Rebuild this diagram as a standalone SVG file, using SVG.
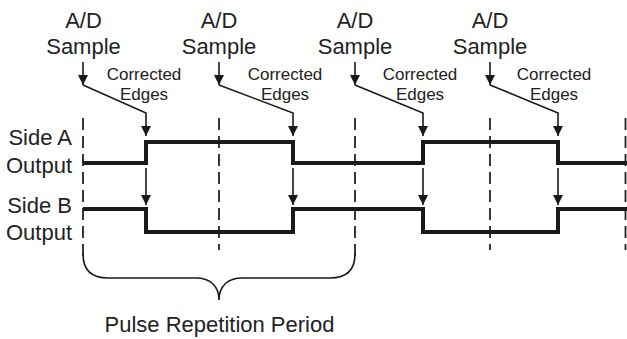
<svg xmlns="http://www.w3.org/2000/svg" width="627" height="339" viewBox="0 0 627 339">
<style>
.big{font-family:"Liberation Sans",Arial,sans-serif;font-size:22px;fill:#222}
.small{font-family:"Liberation Sans",Arial,sans-serif;font-size:17px;fill:#222}
.dash{stroke:#222;stroke-width:1.8;stroke-dasharray:12 6;fill:none}
.sig{stroke:#1a1a1a;stroke-width:4;fill:none;stroke-linejoin:miter}
.arr{stroke:#1a1a1a;stroke-width:1.6;fill:none;marker-end:url(#ah)}
.brace{stroke:#1a1a1a;stroke-width:1.6;fill:none}
</style>
<defs>
<marker id="ah" markerUnits="userSpaceOnUse" markerWidth="10" markerHeight="12" refX="10" refY="5" orient="auto">
<path d="M0,0 L10,5 L0,10 Z" fill="#1a1a1a"/>
</marker>
</defs>
<rect width="627" height="339" fill="#fff"/>
<g id="labels">
<text class="big" x="72" y="145" text-anchor="end">Side A</text>
<text class="big" x="72" y="173" text-anchor="end">Output</text>
<text class="big" x="72" y="213" text-anchor="end">Side B</text>
<text class="big" x="72" y="240" text-anchor="end">Output</text>
<text class="big" x="219.5" y="332" text-anchor="middle">Pulse Repetition Period</text>
</g>
<g id="sample1">
<text class="big" x="83.5" y="28" text-anchor="middle">A/D</text>
<text class="big" x="83.5" y="54" text-anchor="middle">Sample</text>
<text class="small" x="144" y="80" text-anchor="middle">Corrected</text>
<text class="small" x="144" y="100" text-anchor="middle">Edges</text>
</g>
<g id="sample2">
<text class="big" x="219" y="28" text-anchor="middle">A/D</text>
<text class="big" x="219" y="54" text-anchor="middle">Sample</text>
<text class="small" x="285" y="80" text-anchor="middle">Corrected</text>
<text class="small" x="285" y="100" text-anchor="middle">Edges</text>
</g>
<g id="sample3">
<text class="big" x="355" y="28" text-anchor="middle">A/D</text>
<text class="big" x="355" y="54" text-anchor="middle">Sample</text>
<text class="small" x="420" y="80" text-anchor="middle">Corrected</text>
<text class="small" x="420" y="100" text-anchor="middle">Edges</text>
</g>
<g id="sample4">
<text class="big" x="490" y="28" text-anchor="middle">A/D</text>
<text class="big" x="490" y="54" text-anchor="middle">Sample</text>
<text class="small" x="554" y="80" text-anchor="middle">Corrected</text>
<text class="small" x="554" y="100" text-anchor="middle">Edges</text>
</g>
<g id="gridlines">
<path class="dash" d="M83,118 V256"/>
<path class="dash" d="M219,118 V250"/>
<path class="dash" d="M355,118 V256"/>
<path class="dash" d="M490,118 V250"/>
<path class="dash" d="M625.5,118 V250"/>
</g>
<g id="signals">
<path class="sig" d="M83,163 H146 V142 H293 V163 H423 V142 H558 V163 H627"/>
<path class="sig" d="M83,209 H146 V232 H293 V209 H423 V232 H558 V209 H627"/>
</g>
<g id="connectors">
<path class="arr" d="M83,62 V85"/>
<path class="arr" d="M83,85 L146,113 V136"/>
<path class="arr" d="M219,62 V85"/>
<path class="arr" d="M219,85 L293,113 V136"/>
<path class="arr" d="M355,62 V85"/>
<path class="arr" d="M355,85 L423,113 V136"/>
<path class="arr" d="M490,62 V85"/>
<path class="arr" d="M490,85 L558,113 V136"/>
<path class="arr" d="M146,168 V205"/>
<path class="arr" d="M293,168 V205"/>
<path class="arr" d="M423,168 V205"/>
<path class="arr" d="M558,168 V205"/>
<path class="brace" d="M83,254 C83,270 92,278 108,278 H196 C210,278 219,286 219,300 C219,286 228,278 242,278 H330 C346,278 355,270 355,254"/>
</g>
</svg>
